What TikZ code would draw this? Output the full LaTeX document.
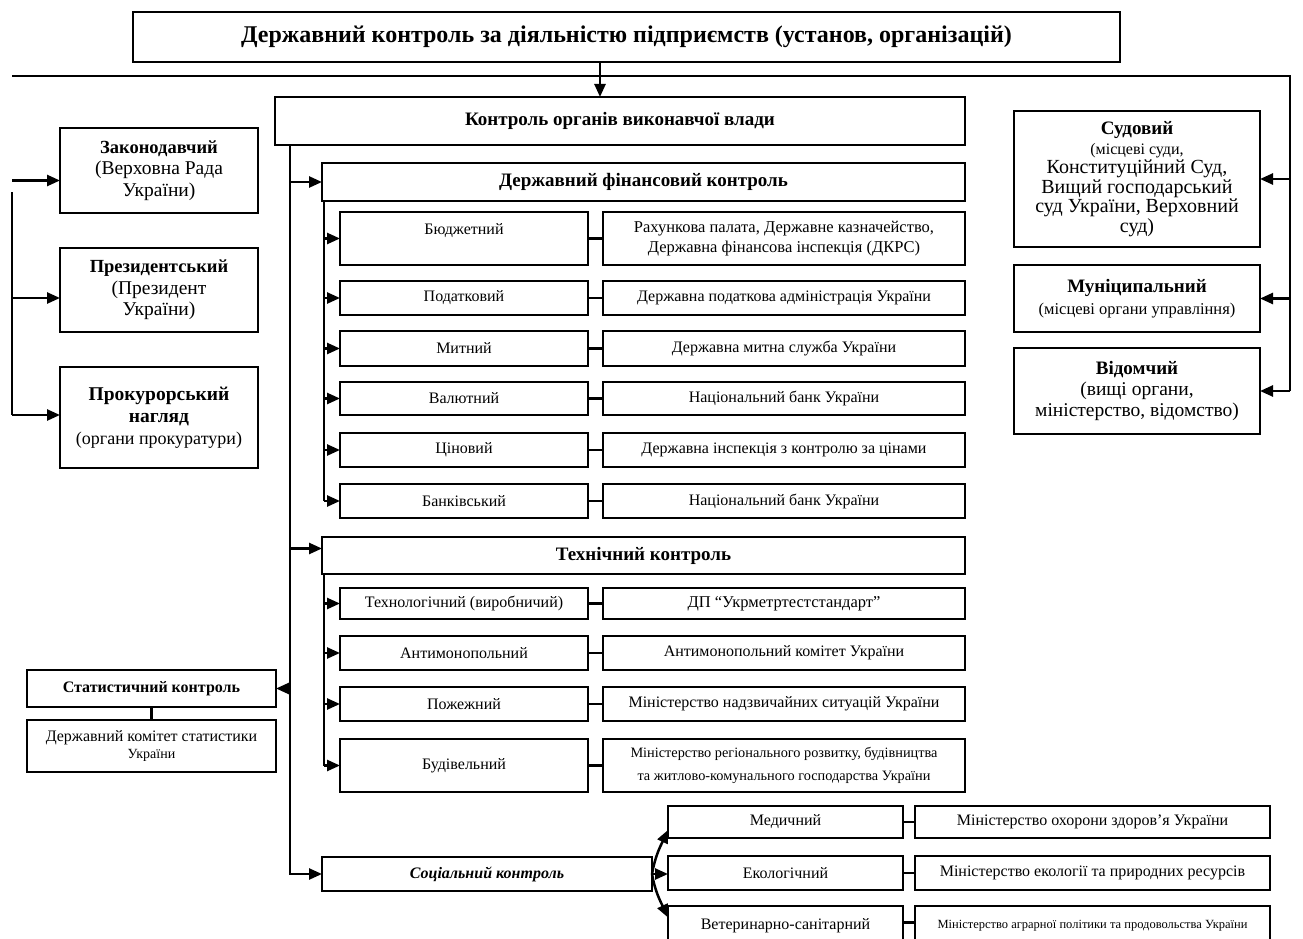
\documentclass[tikz,border=0pt]{standalone}
\usepackage{fontspec}
\setmainfont{Liberation Serif}
\usetikzlibrary{arrows.meta,calc}
\newcommand\fsz[2]{\fontsize{#1}{#2}\selectfont}
\newcommand\mkbox[7][]{\node[box,minimum width={(#5)-(#3)},minimum height={(#6)-(#4)},#1] (#2) at ({((#3)+(#5))/2},{((#4)+(#6))/2}) {#7};}
\tikzset{
  box/.style={draw, line width=2pt, inner sep=1pt, outer sep=0pt, align=center, font=\fsz{16}{19}},
  conn/.style={line width=2.5pt},
  arr/.style={conn, -{Triangle[length=13pt,width=11pt]}},
  hb/.style={font=\fsz{19}{22}\bfseries},
}
\begin{document}
\begin{tikzpicture}[x=1pt,y=-1pt]
\useasboundingbox (0,0) rectangle (1303,939);
\clip (0,0) rectangle (1303,939);
% top
\mkbox[font=\fsz{24}{28}\bfseries]{title}{133}{12}{1120}{62}{Державний контроль за діяльністю підприємств (установ, організацій)}
\mkbox[hb]{kov}{275}{97}{965}{145}{Контроль органів виконавчої влади}
% left
\mkbox[font=\fsz{19.5}{21.5}]{zak}{60}{128}{258}{213}{\textbf{\fsz{18.5}{21.5}Законодавчий}\\(Верховна Рада\\України)}
\mkbox[font=\fsz{19.5}{21.5}]{prez}{60}{248}{258}{332}{\textbf{\fsz{18.5}{21.5}Президентський}\\(Президент\\України)}
\mkbox[font=\fsz{18}{22}]{prok}{60}{367}{258}{468}{\textbf{\fsz{19.5}{22}Прокурорський}\\\textbf{\fsz{19.5}{22}нагляд}\\(органи прокуратури)}
% right
\mkbox[font=\fsz{20}{19.5}]{sud}{1014}{111}{1260}{247}{\textbf{\fsz{19}{19.5}Судовий}\\{\fsz{16}{19.5}(місцеві суди,}\\Конституційний Суд,\\Вищий господарський\\суд України, Верховний\\суд)}
\mkbox[font=\fsz{19}{22}]{mun}{1014}{265}{1260}{332}{\textbf{Муніципальний}\\{\fsz{16.5}{19}(місцеві органи управління)}}
\mkbox[font=\fsz{19.5}{21}]{vid}{1014}{348}{1260}{434}{\textbf{\fsz{19}{21}Відомчий}\\(вищі органи,\\міністерство, відомство)}
% financial
\mkbox[hb]{dfk}{322}{163}{965}{201}{Державний фінансовий контроль}
\mkbox{bud}{340}{212}{588}{265}{Бюджетний\\\phantom{Б}}
\mkbox[font=\fsz{16.5}{20}]{budR}{603}{212}{965}{265}{Рахункова палата, Державне казначейство,\\Державна фінансова інспекція (ДКРС)}
\mkbox{pod}{340}{281}{588}{315}{Податковий}
\mkbox{podR}{603}{281}{965}{315}{Державна податкова адміністрація України}
\mkbox{myt}{340}{331}{588}{366}{Митний}
\mkbox{mytR}{603}{331}{965}{366}{Державна митна служба України}
\mkbox{val}{340}{382}{588}{415}{Валютний}
\mkbox{valR}{603}{382}{965}{415}{Національний банк України}
\mkbox{cin}{340}{433}{588}{467}{Ціновий}
\mkbox{cinR}{603}{433}{965}{467}{Державна інспекція з контролю за цінами}
\mkbox{ban}{340}{484}{588}{518}{Банківський}
\mkbox{banR}{603}{484}{965}{518}{Національний банк України}
% technical
\mkbox[hb]{tk}{322}{537}{965}{574}{Технічний контроль}
\mkbox{tex}{340}{588}{588}{619}{Технологічний (виробничий)}
\mkbox[font=\fsz{16.5}{19}]{texR}{603}{588}{965}{619}{ДП “Укрметртестстандарт”}
\mkbox{ant}{340}{636}{588}{670}{Антимонопольний}
\mkbox{antR}{603}{636}{965}{670}{Антимонопольний комітет України}
\mkbox{poz}{340}{687}{588}{721}{Пожежний}
\mkbox{pozR}{603}{687}{965}{721}{Міністерство надзвичайних ситуацій України}
\mkbox{bdv}{340}{739}{588}{792}{Будівельний}
\mkbox[font=\fsz{14.3}{23}]{bdvR}{603}{739}{965}{792}{Міністерство регіонального розвитку, будівництва\\та житлово-комунального господарства України}
% statistics
\mkbox[font=\fsz{16}{18}\bfseries]{stat}{27}{670}{276}{707}{Статистичний контроль}
\mkbox[font=\fsz{16}{17}]{statk}{27}{720}{276}{772}{Державний комітет статистики\\{\fsz{14}{17}України}}
% social
\mkbox[font=\fsz{16}{18}\bfseries\itshape]{soc}{322}{857}{652}{891}{Соціальний контроль}
\mkbox{med}{668}{806}{903}{838}{Медичний}
\mkbox{medR}{915}{806}{1270}{838}{Міністерство охорони здоров’я України}
\mkbox{eko}{668}{856}{903}{890}{Екологічний}
\mkbox{ekoR}{915}{856}{1270}{890}{Міністерство екології та природних ресурсів}
\mkbox{vet}{668}{906}{903}{945}{Ветеринарно-санітарний}
\mkbox[font=\fsz{12.5}{14}]{vetR}{915}{906}{1270}{945}{Міністерство аграрної політики та продовольства України}
% coordinates
\coordinate (topx) at (600,0);
\coordinate (busL) at (12,76);
\coordinate (busR) at (1290,76);
\coordinate (lv) at (12,192);
\coordinate (lvb) at (12,415);
\coordinate (mv) at (290,145);
\coordinate (iv1) at (324,201);
\coordinate (iv2) at (324,574);
% connectors
\draw[arr] (title.south -| topx) -- (kov.north -| topx);
\draw[conn] (busL) -- (busR) -- (vid.east -| busR);
\draw[arr] (sud.east -| busR) -- (sud.east);
\draw[arr] (mun.east -| busR) -- (mun.east);
\draw[arr] (vid.east -| busR) -- (vid.east);
\draw[arr] ([yshift=-10pt]zak.west -| lv) -- ([yshift=-10pt]zak.west);
\draw[conn] (lv) -- (lvb);
\draw[arr] ([yshift=-8pt]prez.west -| lv) -- ([yshift=-8pt]prez.west);
\draw[arr] (lvb) -- (prok.west |- lvb);
\draw[arr] (mv) |- (soc.west);
\draw[arr] (mv |- dfk.west) -- (dfk.west);
\draw[arr] ([yshift=7pt]tk.west -| mv) -- ([yshift=7pt]tk.west);
\draw[arr] (mv |- stat.east) -- (stat.east);
\draw[conn] (iv1) -- (iv1 |- ban.west);
\foreach \n in {bud,pod,myt,val,cin,ban}{
  \draw[arr] (iv1 |- \n.west) -- (\n.west);
  \draw[conn] (\n.east) -- (\n R.west);
}
\draw[conn] (iv2) -- (iv2 |- bdv.west);
\foreach \n in {tex,ant,poz,bdv}{
  \draw[arr] (iv2 |- \n.west) -- (\n.west);
  \draw[conn] (\n.east) -- (\n R.west);
}
\draw[conn] (stat.south) -- (statk.north);
\draw[arr] (soc.east) to[out=80,in=245] ([yshift=-8pt]med.west);
\draw[arr] (soc.east) -- (soc.east -| eko.west);
\draw[arr] (soc.east) to[out=-80,in=115] ([yshift=8pt]vet.west);
\foreach \n in {med,eko}{
  \draw[conn] (\n.east) -- (\n R.west);
}
\draw[conn] ([yshift=3pt]vet.east) -- ([yshift=3pt]vetR.west);
\end{tikzpicture}
\end{document}
